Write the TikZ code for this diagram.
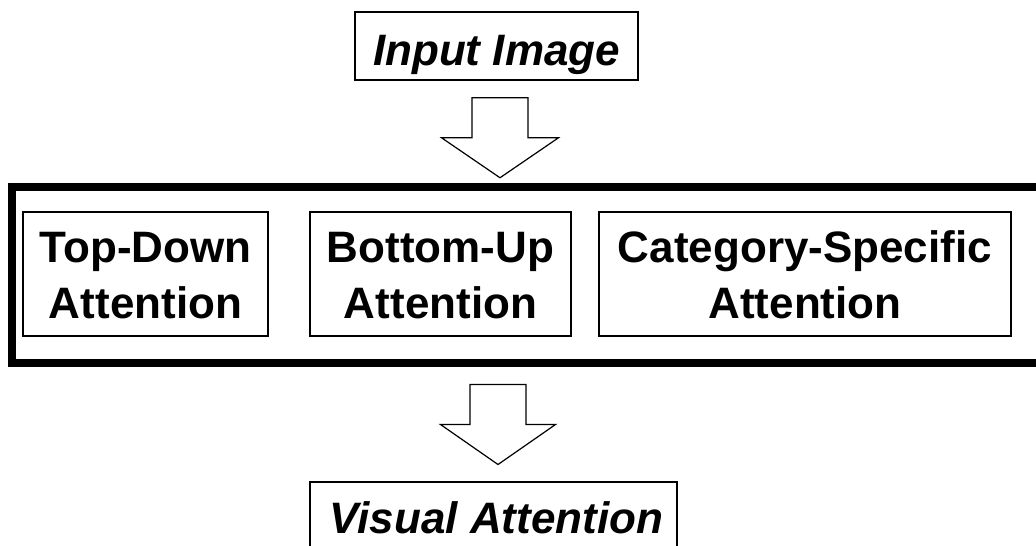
\documentclass[tikz,border=0pt]{standalone}
\usepackage{fontspec}
\setmainfont{Liberation Sans}
\usetikzlibrary{calc}
\tikzset{
  box/.style={draw=black, line width=1.5pt, inner sep=0pt, align=center,
    font=\fontsize{44}{56}\selectfont\bfseries},
  titlebox/.style={box, font=\fontsize{44}{56}\selectfont\bfseries\itshape},
  twoline/.style={text height=88pt, text depth=0pt},
  frame/.style={draw=black, line width=8pt, inner sep=0pt},
  blockarrow/.style={draw=black, line width=1.2pt, fill=white, line join=miter}
}
\begin{document}
\begin{tikzpicture}[x=1pt, y=-1pt]
  \useasboundingbox (0,0) rectangle (1036,546);
  \clip (0,0) rectangle (1036,546);
  \fill[white] (0,0) rectangle (1036,546);

  % input and output
  \node[titlebox, minimum width=283pt, minimum height=68pt,
        text height=38pt, text depth=0pt] (inp) at (496.5,46) {Input Image};
  \node[titlebox, minimum width=367pt, minimum height=102pt,
        text height=33pt, text depth=33pt] (out) at (493.5,533) {\hspace*{6pt}Visual Attention};

  % surrounding frame (runs past the right edge)
  \node[frame, minimum width=1033pt, minimum height=175.5pt] (grp) at (528.5,274.75) {};

  % the three attention models
  \node[box, twoline, minimum width=245pt, minimum height=124pt] (td) at (145.5,274)
    {Top-Down\\Attention};
  \node[box, twoline, minimum width=261pt, minimum height=124pt] (bu) at (440.5,274)
    {Bottom-Up\\Attention};
  \node[box, twoline, minimum width=412pt, minimum height=124pt] (cs) at (805,274)
    {Category-Specific\\Attention};

  % block arrows
  \coordinate (a1) at ($(inp.south)+(3.5,17)$);
  \coordinate (a2) at ($(grp.south)+(-30.5,18)$);
  \draw[blockarrow] (a1) ++(-28,0) -- ++(56,0) -- ++(0,40) -- ++(30.5,0)
        -- ++(-58.5,40) -- ++(-58.5,-40) -- ++(30.5,0) -- cycle;
  \draw[blockarrow] (a2) ++(-28,0) -- ++(56,0) -- ++(0,40) -- ++(29.5,0)
        -- ++(-57.5,40) -- ++(-57.5,-40) -- ++(29.5,0) -- cycle;
\end{tikzpicture}
\end{document}
